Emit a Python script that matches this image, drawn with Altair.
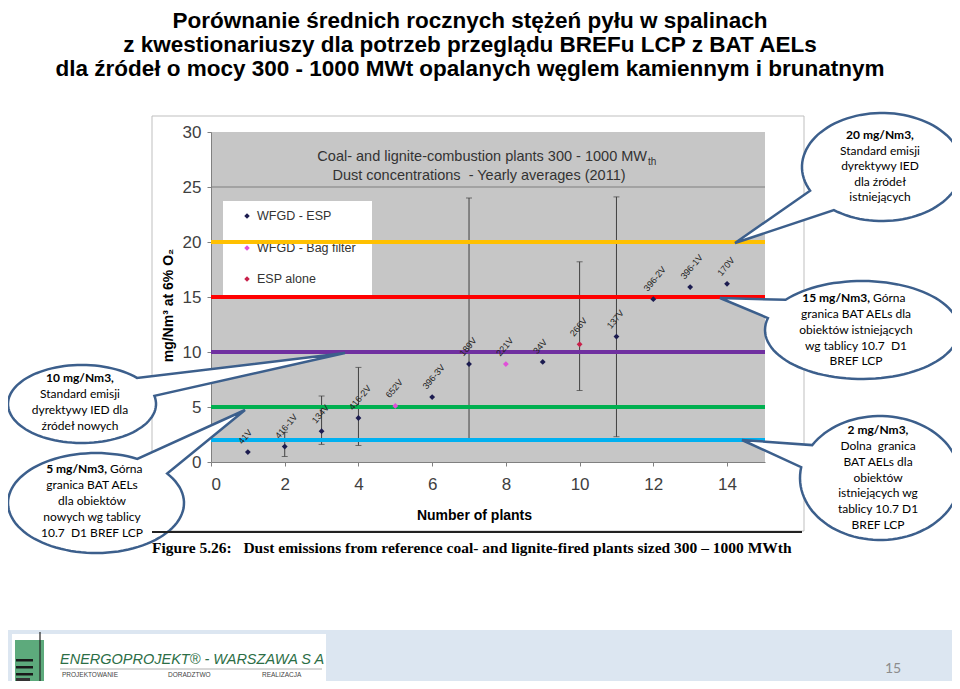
import altair as alt
import pandas as pd
import numpy as np

# ---------------- data ----------------
plant_no = list(range(1, 15))
plant_labels = ["41V", "416-1V", "134V", "416-2V", "652V", "396-3V", "189V",
                "221V", "34V", "266V", "137V", "396-2V", "396-1V", "170V"]
dust = [0.9, 1.4, 2.8, 4.0, 5.1, 5.9, 8.9, 8.9, 9.1, 10.7, 11.4, 14.8, 15.9, 16.2]
technique = ["WFGD - ESP", "WFGD - ESP", "WFGD - ESP", "WFGD - ESP",
             "WFGD - Bag filter", "WFGD - ESP", "WFGD - ESP", "WFGD - Bag filter",
             "WFGD - ESP", "ESP alone", "WFGD - ESP", "WFGD - ESP", "WFGD - ESP",
             "WFGD - ESP"]
err_plant = [2, 3, 4, 7, 10, 11]
err_low = [0.5, 1.6, 1.5, 2.0, 6.5, 2.3]
err_high = [2.7, 6.0, 8.6, 24.0, 18.2, 24.1]
tech_names = ["WFGD - ESP", "WFGD - Bag filter", "ESP alone"]
tech_colors = ["#1c1c50", "#e050d8", "#c8204a"]
limit_values = [20, 15, 10, 5, 2]
limit_colors = ["#FFC000", "#FF0000", "#7030A0", "#00B050", "#00B0F0"]
x_ticks = [0, 2, 4, 6, 8, 10, 12, 14]
y_ticks = [0, 5, 10, 15, 20, 25, 30]
grid_values = [5, 10, 15, 20, 25]

# ---------------- layout ----------------
OX, OY = 211, 132          # page position of plot's top-left corner
W, H = 554, 330
XMAX = 15.03
PAD = dict(left=OX - 8, top=OY - 8, right=944 - (OX - 8) - W, bottom=673 - (OY - 8) - H)
SANS = "Liberation Sans"
CB = "Lato"
BLUE = "#3C5F8C"

xscale = alt.Scale(domain=[0, XMAX], nice=False, zero=False)
yscale = alt.Scale(domain=[0, 30], nice=False, zero=False)
xaxis = alt.Axis(values=x_ticks, format="d", title="Number of plants",
                 titleFont=SANS, titleFontSize=14, titleFontWeight="bold", titleColor="#000",
                 titleX=263, titleY=53, titleBaseline="middle",
                 labelFont=SANS, labelFontSize=17, labelColor="#404040", labelPadding=10,
                 tickSize=4, tickColor="#808080", domainColor="#808080", grid=False)
yaxis = alt.Axis(values=y_ticks, title="mg/Nm³ at 6% O₂",
                 titleFont=SANS, titleFontSize=14, titleFontWeight="bold", titleColor="#000",
                 titleX=-43, titleY=173, titleBaseline="middle",
                 labelFont=SANS, labelFontSize=17, labelColor="#404040", labelPadding=6,
                 tickSize=4, tickColor="#808080", domainColor="#808080", grid=False)


def XE(f):
    return alt.X(f, type="quantitative", scale=xscale, axis=xaxis)


def YE(f):
    return alt.Y(f, type="quantitative", scale=yscale, axis=yaxis)


pts = pd.DataFrame({"plant": plant_no, "dust": dust, "tech": technique, "label": plant_labels})
errs = pd.DataFrame({"plant": err_plant, "lo": err_low, "hi": err_high})
lims = pd.DataFrame({"v": limit_values, "c": limit_colors})
grid = pd.DataFrame({"v": grid_values})


def T(s, px, py, size=12, weight="normal", color="#000", align="center", font=CB,
      style="normal", baseline="middle"):
    return alt.Chart(pd.DataFrame({"t": [s]})).mark_text(
        align=align, baseline=baseline, fontSize=size, fontWeight=weight, font=font,
        color=color, fontStyle=style).encode(
        x=alt.value(px - OX), y=alt.value(py - OY), text="t:N")


def R(x1, y1, x2, y2, fill, stroke="transparent", sw=0):
    return alt.Chart(pd.DataFrame({"a": [0]})).mark_rect(
        fill=fill, stroke=stroke, strokeWidth=sw).encode(
        x=alt.value(x1 - OX), x2=alt.value(x2 - OX), y=alt.value(y1 - OY), y2=alt.value(y2 - OY))


def L(x1, y1, x2, y2, color, sw=1):
    return alt.Chart(pd.DataFrame({"a": [0]})).mark_rule(color=color, strokeWidth=sw).encode(
        x=alt.value(x1 - OX), x2=alt.value(x2 - OX), y=alt.value(y1 - OY), y2=alt.value(y2 - OY))


def bubble(cx, cy, rx, ry, tx, ty, a1, a2, n=96):
    span = 360 - (a2 - a1)
    seg = []
    for i in range(n + 1):
        t = np.radians(a1 - span * i / n)
        seg.append((cx + rx * np.cos(t) - tx, cy + ry * np.sin(t) - ty))
    d = "M0,0 " + " ".join(f"L{x:.1f},{y:.1f}" for x, y in seg) + " Z"
    return alt.Chart(pd.DataFrame({"a": [0]})).mark_point(
        shape=d, size=4, filled=True, fill="white", stroke=BLUE, strokeWidth=2.5,
        opacity=1, fillOpacity=1, strokeOpacity=1).encode(
        x=alt.value(tx - OX), y=alt.value(ty - OY))


layers = []

# footer band and logo
layers.append(R(0, 630, 960, 700, "#DCE6F1"))
layers.append(R(12, 634, 326, 688, "#FFFFFF"))
layers.append(R(15, 640, 44, 687, "#5DAA7C"))
for yy in (659, 666, 673):
    layers.append(R(16, yy, 33, yy + 2.5, "#1a1a1a"))
layers.append(R(16, 678, 30, 684, "#333333"))
layers.append(L(40, 632, 40, 687, "#222222", 1.2))
layers.append(T("ENERGOPROJEKT® - WARSZAWA S A", 60, 660, size=14.5, font=SANS,
                style="italic", color="#2C6E46", align="left"))
layers.append(L(60, 669, 322, 669, "#9a9a9a", 0.8))
layers.append(T("PROJEKTOWANIE", 62, 675, size=6.5, font=SANS, color="#444", align="left"))
layers.append(T("DORADZTWO", 168, 675, size=6.5, font=SANS, color="#444", align="left"))
layers.append(T("REALIZACJA", 262, 675, size=6.5, font=SANS, color="#444", align="left"))
layers.append(T("15", 893, 669, size=14, font=CB, color="#8C8C8C"))

# frame of the pasted figure
layers.append(R(152, 116, 804, 531, "transparent", "#BFBFBF", 1))

# gridlines
layers.append(alt.Chart(grid).mark_rule(color="#7F7F7F", strokeWidth=1).encode(y=YE("v")))

# chart title inside plot
layers.append(T("Coal- and lignite-combustion plants 300 - 1000 MW", 647, 157, size=14.5,
                font=SANS, color="#333", align="right"))
layers.append(T("th", 648, 162, size=10, font=SANS, color="#333", align="left"))
layers.append(T("Dust concentrations\u00a0 - Yearly averages (2011)", 479, 176, size=14.5,
                font=SANS, color="#333"))

# legend box
layers.append(R(223, 201, 372, 295, "#FFFFFF"))
for nm, col, yy in zip(tech_names, tech_colors, (216, 248, 279)):
    layers.append(alt.Chart(pd.DataFrame({"a": [0]})).mark_point(
        shape="diamond", size=30, filled=True, color=col, opacity=1).encode(
        x=alt.value(247 - OX), y=alt.value(yy - OY)))
    layers.append(T(nm, 257, yy, size=12.5, font=SANS, color="#333", align="left"))

# error bars
layers.append(alt.Chart(errs).mark_rule(color="#404040", strokeWidth=1).encode(
    x=XE("plant"), y=YE("lo"), y2="hi:Q"))
for f in ("lo", "hi"):
    layers.append(alt.Chart(errs).mark_tick(orient="horizontal", color="#404040",
                                            thickness=1, size=6).encode(
        x=XE("plant"), y=YE(f)))

# limit lines
layers.append(alt.Chart(lims).mark_rule(strokeWidth=4).encode(
    y=YE("v"), color=alt.Color("c:N", scale=None, legend=None)))

# points
layers.append(alt.Chart(pts).mark_point(shape="diamond", size=34, filled=True, opacity=1).encode(
    x=XE("plant"), y=YE("dust"),
    color=alt.Color("tech:N", scale=alt.Scale(domain=tech_names, range=tech_colors),
                    legend=None)))
layers.append(alt.Chart(pts).mark_text(angle=310, align="left", baseline="bottom",
                                       xOffset=-4, yOffset=-6, fontSize=9, font=SANS,
                                       color="#222").encode(
    x=XE("plant"), y=YE("dust"), text="label:N"))

# callouts
layers.append(bubble(882, 167, 80, 54, 735, 243, 127, 154))
layers.append(bubble(862, 330, 97, 49, 720, 298, 194, 218))
layers.append(bubble(880, 478, 80, 62, 742, 440, 190, 212))
layers.append(bubble(82, 404, 74, 39, 345, 353, -42, -12))
layers.append(bubble(96, 503, 88, 50, 245, 410, -62, -36))

# callout texts
layers.append(T("20 mg/Nm3,", 880, 135, weight="bold"))
for s, yy in zip(["Standard emisji", "dyrektywy IED", "dla źródeł", "istniejących"],
                 (151, 166, 182, 197)):
    layers.append(T(s, 880, yy))

layers.append(T("15 mg/Nm3,", 870, 298, weight="bold", align="right"))
layers.append(T("Górna", 873, 298, align="left"))
for s, yy in zip(["granica BAT AELs dla", "obiektów istniejących", "wg tablicy 10.7\u00a0\u00a0D1",
                  "BREF LCP"], (314, 330, 346, 361)):
    layers.append(T(s, 856, yy))

layers.append(T("2 mg/Nm3,", 878, 430, weight="bold"))
for s, yy in zip(["Dolna\u00a0\u00a0granica", "BAT AELs dla", "obiektów", "istniejących wg",
                  "tablicy 10.7 D1", "BREF LCP"], (446, 462, 478, 493, 509, 525)):
    layers.append(T(s, 878, yy))

layers.append(T("10 mg/Nm3,", 80, 378, weight="bold"))
for s, yy in zip(["Standard emisji", "dyrektywy IED dla", "źródeł nowych"], (394, 410, 426)):
    layers.append(T(s, 80, yy))

layers.append(T("5 mg/Nm3,", 107, 469, weight="bold", align="right"))
layers.append(T("Górna", 110, 469, align="left"))
for s, yy in zip(["granica BAT AELs", "dla obiektów", "nowych wg tablicy",
                  "10.7\u00a0\u00a0D1 BREF LCP"], (485, 501, 517, 533)):
    layers.append(T(s, 92, yy))

# caption under figure
layers.append(L(152, 532, 802, 532, "#222222", 2))
layers.append(T("Figure 5.26:\u00a0\u00a0 Dust emissions from reference coal- and lignite-fired plants sized 300 – 1000 MWth",
                152, 548, size=15.5, weight="bold", font="Liberation Serif", align="left"))

# slide title
for s, yy in zip(["Porównanie średnich rocznych stężeń pyłu w spalinach",
                  "z kwestionariuszy dla potrzeb przeglądu BREFu LCP z BAT AELs",
                  "dla źródeł o mocy 300 - 1000 MWt opalanych węglem kamiennym i brunatnym"],
                 (21, 45, 69)):
    layers.append(T(s, 470, yy, size=22.5, weight="bold", font=SANS))

chart = alt.layer(*layers).properties(
    width=W, height=H,
    autosize=alt.AutoSizeParams(type="none"),
    padding=PAD,
).configure_view(fill="#C6C6C6", strokeWidth=0)

chart.save("out.html", embed_options={"renderer": "svg", "actions": False})
